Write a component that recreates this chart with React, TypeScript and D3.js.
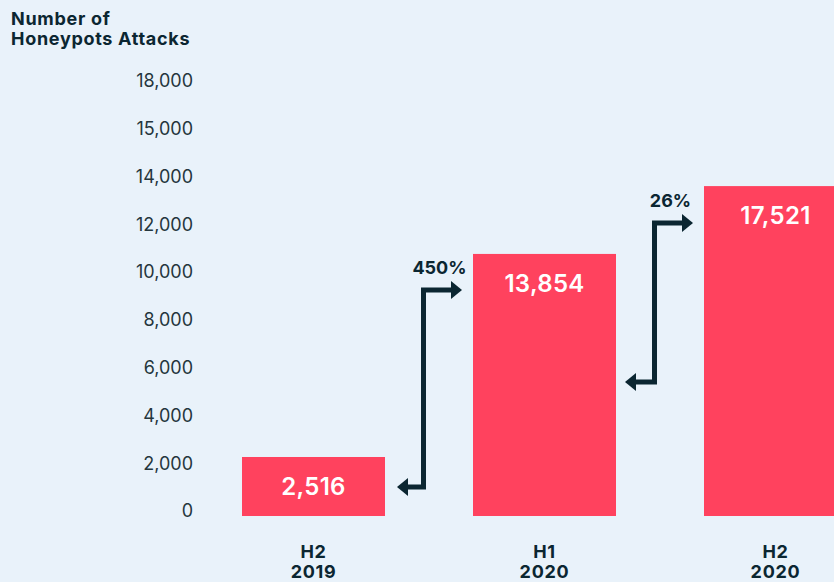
import React, { useEffect, useRef } from 'react';
import * as d3 from 'd3';

// periods on the x axis (two lines each)
const periods = ['H2 2019', 'H1 2020', 'H2 2020'];
const periodTop = ['H2', 'H1', 'H2'];
const periodBottom = ['2019', '2020', '2020'];

// printed totals and the bar heights as drawn against the axis
const valueLabels = [2516, 13854, 17521];
const barHeights = [2470, 10970, 13810];

// y axis ticks and their printed labels
const tickValues = [0, 2000, 4000, 6000, 8000, 10000, 12000, 14000, 16000, 18000];
const tickLabels = ['0', '2,000', '4,000', '6,000', '8,000', '10,000', '12,000', '14,000', '15,000', '18,000'];

// growth annotations between consecutive periods
const growthLabels = ['450%', '26%'];
const growthStart = [1210, 5610];
const growthEnd = [9460, 12270];

const W = 834;
const H = 582;
const DARK = '#0b2631';
const RED = '#ff425e';
const BG = '#e9f2fa';

const App: React.FC = () => {
  const svgRef = useRef<SVGSVGElement>(null);

  useEffect(() => {
    if (!svgRef.current) return;
    const svg = d3.select(svgRef.current);
    svg.selectAll('*').remove();

    svg.append('rect').attr('width', W).attr('height', H).attr('fill', BG);

    const x = d3.scaleBand<string>()
      .domain(periods)
      .range([242, 847])
      .paddingInner(0.381)
      .paddingOuter(0);

    const y = d3.scaleLinear().domain([0, 18000]).range([516, 86]);

    const font = 'Inter, sans-serif';

    // title
    const title = svg.append('text')
      .attr('font-family', font)
      .attr('font-weight', 700)
      .attr('font-size', 18)
      .attr('letter-spacing', 0.7)
      .attr('fill', DARK);
    title.append('tspan').attr('x', 11).attr('y', 25).text('Number of');
    title.append('tspan').attr('x', 11).attr('y', 45).text('Honeypots Attacks');

    // y tick labels
    svg.append('g')
      .selectAll('text')
      .data(tickValues)
      .enter()
      .append('text')
      .attr('x', 193)
      .attr('y', d => y(d) - 5)
      .attr('dy', '0.35em')
      .attr('text-anchor', 'end')
      .attr('font-family', font)
      .attr('font-size', 18)
      .attr('fill', '#25363d')
      .text((d, i) => tickLabels[i]);

    // bars
    svg.append('g')
      .selectAll('rect')
      .data(periods)
      .enter()
      .append('rect')
      .attr('x', d => x(d)!)
      .attr('y', (d, i) => y(barHeights[i]))
      .attr('width', x.bandwidth())
      .attr('height', (d, i) => y(0) - y(barHeights[i]))
      .attr('fill', RED);

    // value labels in bars
    svg.append('g')
      .selectAll('text')
      .data(periods)
      .enter()
      .append('text')
      .attr('x', d => x(d)! + x.bandwidth() / 2)
      .attr('y', (d, i) => y(barHeights[i]) + 29)
      .attr('dy', '0.36em')
      .attr('text-anchor', 'middle')
      .attr('font-family', font)
      .attr('font-weight', 600)
      .attr('font-size', 24)
      .attr('letter-spacing', 0.3)
      .attr('fill', '#ffffff')
      .text((d, i) => d3.format(',')(valueLabels[i]));

    // period labels
    const cats = svg.append('g')
      .selectAll('text')
      .data(periods)
      .enter()
      .append('text')
      .attr('text-anchor', 'middle')
      .attr('font-family', font)
      .attr('font-weight', 700)
      .attr('font-size', 18)
      .attr('letter-spacing', 0.7)
      .attr('fill', DARK);
    cats.append('tspan')
      .attr('x', d => x(d)! + x.bandwidth() / 2)
      .attr('y', 558)
      .text((d, i) => periodTop[i]);
    cats.append('tspan')
      .attr('x', d => x(d)! + x.bandwidth() / 2)
      .attr('y', 578)
      .text((d, i) => periodBottom[i]);

    // growth arrows
    const headW = 11;
    const headH = 18;
    growthLabels.forEach((label, i) => {
      const fromBar = periods[i];
      const toBar = periods[i + 1];
      const leftTip = x(fromBar)! + x.bandwidth() + (i === 0 ? 12 : 9);
      const rightTip = x(toBar)! - 11;
      const xv = x(toBar)! - 49.5;
      const y0 = y(growthStart[i]);
      const y1 = y(growthEnd[i]);
      const g = svg.append('g');
      g.append('path')
        .attr('d', `M${leftTip + headW - 1},${y0} H${xv} V${y1} H${rightTip - headW + 1}`)
        .attr('fill', 'none')
        .attr('stroke', DARK)
        .attr('stroke-width', 5)
        .attr('stroke-linejoin', 'miter');
      g.append('path')
        .attr('d', `M${leftTip},${y0} L${leftTip + headW},${y0 - headH / 2} L${leftTip + headW},${y0 + headH / 2} Z`)
        .attr('fill', DARK);
      g.append('path')
        .attr('d', `M${rightTip},${y1} L${rightTip - headW},${y1 - headH / 2} L${rightTip - headW},${y1 + headH / 2} Z`)
        .attr('fill', DARK);
      g.append('text')
        .attr('x', xv + 16)
        .attr('y', y1 - 22)
        .attr('dy', '0.36em')
        .attr('text-anchor', 'middle')
        .attr('font-family', font)
        .attr('font-weight', 700)
        .attr('font-size', 18)
        .attr('fill', DARK)
        .text(label);
    });
  }, []);

  return (
    <div style={{ position: 'absolute', left: 0, top: 0, width: W, height: H }}>
      <svg ref={svgRef} width={W} height={H} style={{ display: 'block' }}></svg>
    </div>
  );
};

export default App;
